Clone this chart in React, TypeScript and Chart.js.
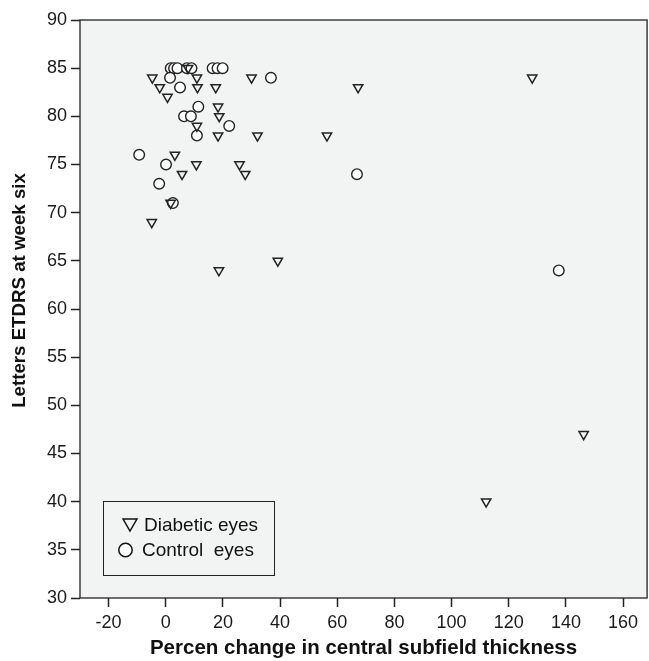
import React, { useEffect, useRef } from "react";
import { Chart, registerables } from "chart.js";

Chart.register(...registerables);

// Diabetic eyes (triangles)
const diabeticX = [7.8, -4.7, 10.9, 30, 128.2, -2.1, 11.1, 17.5, 67.3, 0.6, 18.3, 18.7, 10.9, 18.3, 32.1, 56.4, 3.2, 10.7, 25.8, 5.7, 27.8, 1.7, -4.9, 39.2, 18.6, 146.2, 112.1];
const diabeticY = [85, 84, 84, 84, 84, 83, 83, 83, 83, 82, 81, 80, 79, 78, 78, 78, 76, 75, 75, 74, 74, 71, 69, 65, 64, 47, 40];

// Control eyes (circles)
const controlX = [1.75, 2.9, 4.1, 7.4, 9.0, 16.4, 18.1, 19.9, 1.5, 36.8, 5.0, 11.4, 6.4, 8.8, 22.2, 10.9, -9.3, 0.1, 66.9, -2.3, 2.5, 137.5];
const controlY = [85, 85, 85, 85, 85, 85, 85, 85, 84, 84, 83, 81, 80, 80, 79, 78, 76, 75, 74, 73, 71, 64];

const seriesLabels = ["Diabetic eyes", "Control  eyes"];
const xTicks = [-20, 0, 20, 40, 60, 80, 100, 120, 140, 160];
const yTicks = [30, 35, 40, 45, 50, 55, 60, 65, 70, 75, 80, 85, 90];
const xRange = [-30, 168.4];
const yRange = [30, 90];
const xTitle = "Percen change in central subfield thickness";
const yTitle = "Letters ETDRS at week six";

const FONT = "Arial, 'Liberation Sans', sans-serif";
const INK = "#222";

function drawTriangle(ctx: CanvasRenderingContext2D, x: number, y: number, r: number) {
  ctx.beginPath();
  ctx.moveTo(x - r * 0.866, y - r * 0.5);
  ctx.lineTo(x + r * 0.866, y - r * 0.5);
  ctx.lineTo(x, y + r);
  ctx.closePath();
  ctx.stroke();
}

const boxPlugin = {
  id: "plotBox",
  beforeDatasetsDraw(chart: any) {
    const { ctx, chartArea: a } = chart;
    ctx.save();
    ctx.fillStyle = "#f2f4f3";
    ctx.fillRect(a.left, a.top, a.right - a.left, a.bottom - a.top);
    ctx.strokeStyle = INK;
    ctx.lineWidth = 1.3;
    ctx.strokeRect(a.left, a.top, a.right - a.left, a.bottom - a.top);
    ctx.save();
    ctx.translate(20, a.top + (a.bottom - a.top) * 0.468);
    ctx.rotate(-Math.PI / 2);
    ctx.fillStyle = "#111";
    ctx.font = `bold 18.7px ${FONT}`;
    ctx.textAlign = "center";
    ctx.textBaseline = "middle";
    ctx.fillText(yTitle, 0, 0);
    ctx.restore();
    ctx.restore();
  },
  afterDatasetsDraw(chart: any) {
    const { ctx, chartArea: a } = chart;
    const bx = a.left + 23;
    const by = a.bottom - 97;
    const bw = 171;
    const bh = 74;
    ctx.save();
    ctx.fillStyle = "#f2f4f3";
    ctx.fillRect(bx, by, bw, bh);
    ctx.strokeStyle = INK;
    ctx.lineWidth = 1;
    ctx.strokeRect(bx + 0.5, by + 0.5, bw, bh);
    ctx.fillStyle = "#111";
    ctx.font = `19px ${FONT}`;
    ctx.textBaseline = "middle";
    ctx.textAlign = "left";
    ctx.lineWidth = 1.5;
    ctx.strokeStyle = "#111";
    drawTriangle(ctx, bx + 27, by + 22, 8);
    ctx.fillText(chart.data.datasets[0].label, bx + 41, by + 25);
    ctx.beginPath();
    ctx.arc(bx + 22.5, by + 49, 6.7, 0, Math.PI * 2);
    ctx.fillStyle = "#fff";
    ctx.fill();
    ctx.stroke();
    ctx.fillStyle = "#111";
    ctx.fillText(chart.data.datasets[1].label, bx + 39, by + 50);
    ctx.restore();
  },
};

export default function App() {
  const ref = useRef<HTMLCanvasElement | null>(null);
  useEffect(() => {
    if (!ref.current) return;
    const chart = new Chart(ref.current, {
      type: "scatter",
      data: {
        datasets: [
          {
            label: seriesLabels[0],
            data: diabeticX.map((x, i) => ({ x, y: diabeticY[i] })),
            pointStyle: "triangle",
            rotation: 180,
            radius: 5.4,
            borderColor: "#222",
            borderWidth: 1.5,
            backgroundColor: "rgba(0,0,0,0)",
          },
          {
            label: seriesLabels[1],
            data: controlX.map((x, i) => ({ x, y: controlY[i] })),
            pointStyle: "circle",
            radius: 5.3,
            borderColor: "#222",
            borderWidth: 1.4,
            backgroundColor: "#ffffff",
          },
        ],
      },
      options: {
        animation: false,
        responsive: false,
        layout: { padding: { left: 0, right: 0, top: 20, bottom: 0 } },
        plugins: { legend: { display: false }, tooltip: { enabled: false } },
        scales: {
          x: {
            type: "linear",
            min: xRange[0],
            max: xRange[1],
            afterBuildTicks: (s: any) => {
              s.ticks = xTicks.map((v) => ({ value: v }));
            },
            afterFit: (s: any) => {
              s.height = 63;
              s.paddingLeft = 0;
              s.paddingRight = 0;
            },
            grid: { drawOnChartArea: false, tickLength: 9, tickColor: INK, tickWidth: 1.5 },
            border: { display: false },
            ticks: { color: "#1a1a1a", font: { family: FONT, size: 18 }, padding: 5, maxRotation: 0 },
            title: {
              display: true,
              text: xTitle,
              color: "#111",
              font: { family: FONT, size: 20.5, weight: "bold" },
              padding: { top: 0, bottom: 0 },
            },
          },
          y: {
            type: "linear",
            min: yRange[0],
            max: yRange[1],
            afterBuildTicks: (s: any) => {
              s.ticks = yTicks.map((v) => ({ value: v }));
            },
            afterFit: (s: any) => {
              s.width = 80;
            },
            grid: { drawOnChartArea: false, tickLength: 9, tickColor: INK, tickWidth: 1.5 },
            border: { display: false },
            ticks: { color: "#1a1a1a", font: { family: FONT, size: 18 }, padding: 4 },
            title: { display: false },
          },
        },
      },
      plugins: [boxPlugin],
    } as any);
    return () => chart.destroy();
  }, []);
  return (
    <div style={{ position: "absolute", left: 0, top: 0, width: 649, height: 661, overflow: "hidden", background: "#fff" }}>
      <canvas ref={ref} width={654} height={661} style={{ display: "block" }} />
    </div>
  );
}
